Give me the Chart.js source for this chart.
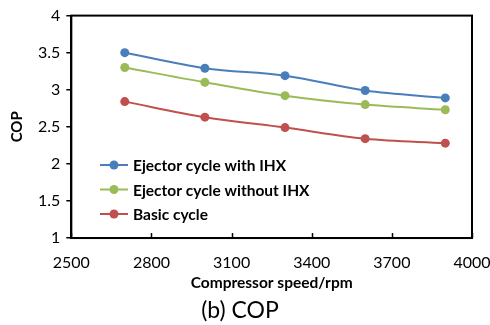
<!DOCTYPE html>
<html>
<head>
<meta charset="utf-8">
<script src="https://cdn.jsdelivr.net/npm/chart.js@4"></script>
<style>
  html, body { margin: 0; padding: 0; background: #fff; }
  canvas { display: block; }
</style>
</head>
<body>
<canvas id="grafico" width="490" height="325"></canvas>
<script>
// rpm
const speeds = [2700, 3000, 3300, 3600, 3900];
const comIHX = [3.50, 3.29, 3.19, 2.99, 2.89];
const semIHX = [3.30, 3.10, 2.92, 2.80, 2.73];
const basico = [2.84, 2.63, 2.49, 2.34, 2.28];
const seriesNames = ["Ejector cycle with IHX", "Ejector cycle without IHX", "Basic cycle"];
const xTicks = [2500, 2800, 3100, 3400, 3700, 4000];
const yTicks = [1, 1.5, 2, 2.5, 3, 3.5, 4];

const FONTE = "Lato, 'Open Sans', sans-serif";

function pontos(vals){
  return speeds.map((s, i) => ({x: s, y: vals[i]}));
}

// caixa + ticks do eixo x para dentro + legenda dentro do gráfico
const extras = {
  id: "extras",
  afterDraw(c){
    const ctx = c.ctx;
    const a = c.chartArea;
    const sx = c.scales.x;
    ctx.save();
    ctx.strokeStyle = "#000";
    ctx.lineWidth = 2;
    ctx.strokeRect(a.left, a.top, a.right - a.left, a.bottom - a.top);
    ctx.lineWidth = 1.5;
    xTicks.forEach(v => {
      const px = Math.round(sx.getPixelForValue(v)) + 0.5;
      ctx.beginPath();
      ctx.moveTo(px, a.bottom);
      ctx.lineTo(px, a.bottom - 5);
      ctx.stroke();
    });

    // legenda
    const x0 = 100, x1 = 128;
    let y = 165;
    c.data.datasets.forEach(ds => {
      ctx.strokeStyle = ds.borderColor;
      ctx.lineWidth = 2;
      ctx.beginPath();
      ctx.moveTo(x0, y);
      ctx.lineTo(x1, y);
      ctx.stroke();
      ctx.fillStyle = ds.backgroundColor;
      ctx.beginPath();
      ctx.arc((x0 + x1) / 2, y, 4.5, 0, Math.PI * 2);
      ctx.fill();
      ctx.fillStyle = "#000";
      ctx.font = "bold 15.5px " + FONTE;
      ctx.textBaseline = "middle";
      ctx.textAlign = "left";
      ctx.fillText(ds.label, 133, y + 1);
      y += 24.5;
    });
    ctx.restore();
  }
};

const cores = ["#4A7EBB", "#9BBB59", "#C0504D"];
const valores = [comIHX, semIHX, basico];

const chart = new Chart(document.getElementById("grafico"), {
  type: "line",
  data: {
    datasets: valores.map((v, i) => ({
      label: seriesNames[i],
      data: pontos(v),
      borderColor: cores[i],
      backgroundColor: cores[i],
      borderWidth: 2,
      tension: 0.35,
      pointRadius: 4.5,
      pointBorderWidth: 0
    }))
  },
  options: {
    responsive: false,
    animation: false,
    layout: { padding: { top: 8, right: 18, bottom: 0, left: 8 } },
    plugins: {
      legend: { display: false },
      tooltip: { enabled: false },
      title: {
        display: true,
        position: "bottom",
        text: "(b) COP",
        color: "#000",
        font: { family: FONTE, size: 23, weight: "normal", lineHeight: 1.1 },
        padding: { top: 3, bottom: 2 }
      }
    },
    scales: {
      x: {
        type: "linear",
        min: 2500,
        max: 4000,
        afterBuildTicks: s => { s.ticks = xTicks.map(v => ({value: v})); },
        afterFit: s => { s.paddingRight = 0; s.paddingLeft = 0; },
        grid: { display: false, drawTicks: false },
        border: { display: true, color: "#000", width: 2 },
        ticks: {
          color: "#000",
          font: { family: FONTE, size: 16, lineHeight: 1.1 },
          padding: 16,
          maxRotation: 0,
          callback: v => String(v)
        },
        title: {
          display: true,
          text: "Compressor speed/rpm",
          color: "#000",
          font: { family: FONTE, size: 15.5, weight: "bold", lineHeight: 1.1 },
          padding: { top: -13, bottom: 3 }
        }
      },
      y: {
        min: 1,
        max: 4,
        afterBuildTicks: s => { s.ticks = yTicks.map(v => ({value: v})); },
        grid: {
          drawOnChartArea: false,
          drawTicks: true,
          tickLength: 5,
          color: "#000",
          lineWidth: 1.5
        },
        border: { display: true, color: "#000", width: 2 },
        ticks: {
          color: "#000",
          font: { family: FONTE, size: 16 },
          padding: 6,
          callback: v => String(v)
        },
        title: {
          display: true,
          text: "COP",
          color: "#000",
          font: { family: FONTE, size: 15, weight: "bold" },
          padding: { top: 0, bottom: 6 }
        }
      }
    }
  },
  plugins: [extras]
});
</script>
</body>
</html>
